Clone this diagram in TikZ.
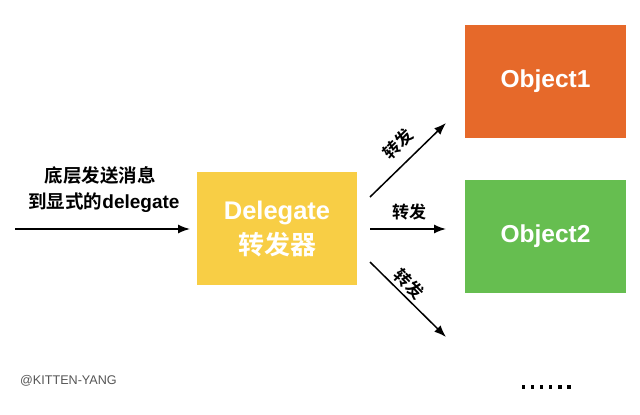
\documentclass[tikz,border=0pt]{standalone}
\usepackage{fontspec}
\setmainfont{Liberation Sans}
\newfontfamily\cjk{Noto Sans CJK SC}
\newfontfamily\cjkb{Noto Sans CJK SC Bold}
\usetikzlibrary{arrows.meta}
\definecolor{dyellow}{HTML}{F8CE45}
\definecolor{dorange}{HTML}{E6692A}
\definecolor{dgreen}{HTML}{66BE50}
\definecolor{dgray}{HTML}{555555}
\tikzset{
  box/.style={minimum width=161pt, minimum height=113pt, inner sep=0pt, text=white, align=center},
  arr/.style={line width=1.5pt, -{Latex[length=12pt,width=9pt]}},
  lbl/.style={inner sep=0pt, font=\cjkb\fontsize{17}{17}\selectfont},
  dot/.style={fill=black, minimum size=3.2pt, inner sep=0pt},
}
\begin{document}
\begin{tikzpicture}[x=1pt,y=-1pt]
\useasboundingbox (0,0) rectangle (640,415);
\node[box, fill=dyellow, minimum width=160pt, minimum height=113pt] (del) at (277,228.5) {};
\node[inner sep=0pt, text=white, font=\fontsize{25.5}{26}\selectfont\bfseries] (dl1) at (277,212.5) {Delegate};
\node[inner sep=0pt, text=white, font=\cjkb\fontsize{26}{26}\selectfont] (dl2) at (277,245) {转发器};
\node[box, fill=dorange] (o1) at (545.5,81) {\fontsize{24.5}{24}\selectfont\bfseries Object1};
\node[box, fill=dgreen] (o2) at (545.5,236.5) {\fontsize{24.5}{24}\selectfont\bfseries Object2};
\node[inner sep=0pt, font=\cjkb\fontsize{18.5}{28}\selectfont] (src1) at (100,175) {底层发送消息};
\node[inner sep=0pt, font=\cjkb\fontsize{18.5}{28}\selectfont] (src2) at (104,203) {到显式的{\bfseries\rmfamily\fontsize{19}{28}\selectfont delegate}};
\coordinate (in) at (15,229);
\coordinate (inE) at (190,229);
\draw[arr] (in) -- (inE);
\coordinate (u1) at (370,197); \coordinate (u2) at (446,123);
\coordinate (m1) at (370,229); \coordinate (m2) at (446,229);
\coordinate (d1) at (370,262); \coordinate (d2) at (446,337);
\draw[arr] (u1) -- (u2);
\draw[arr] (m1) -- (m2);
\draw[arr] (d1) -- (d2);
\node[lbl, rotate=45] (lu) at (398,144) {转发};
\node[lbl] (lm) at (409,212) {转发};
\node[lbl, rotate=-45] (ld) at (409,284) {转发};
\node[inner sep=0pt, anchor=west, text=dgray, font=\fontsize{12.6}{13}\selectfont] (cr) at (20,381) {@KITTEN-YANG};
\foreach \i in {0,...,5} { \node[dot] (dt\i) at (523.5+9.1*\i,387) {}; }
\end{tikzpicture}
\end{document}
